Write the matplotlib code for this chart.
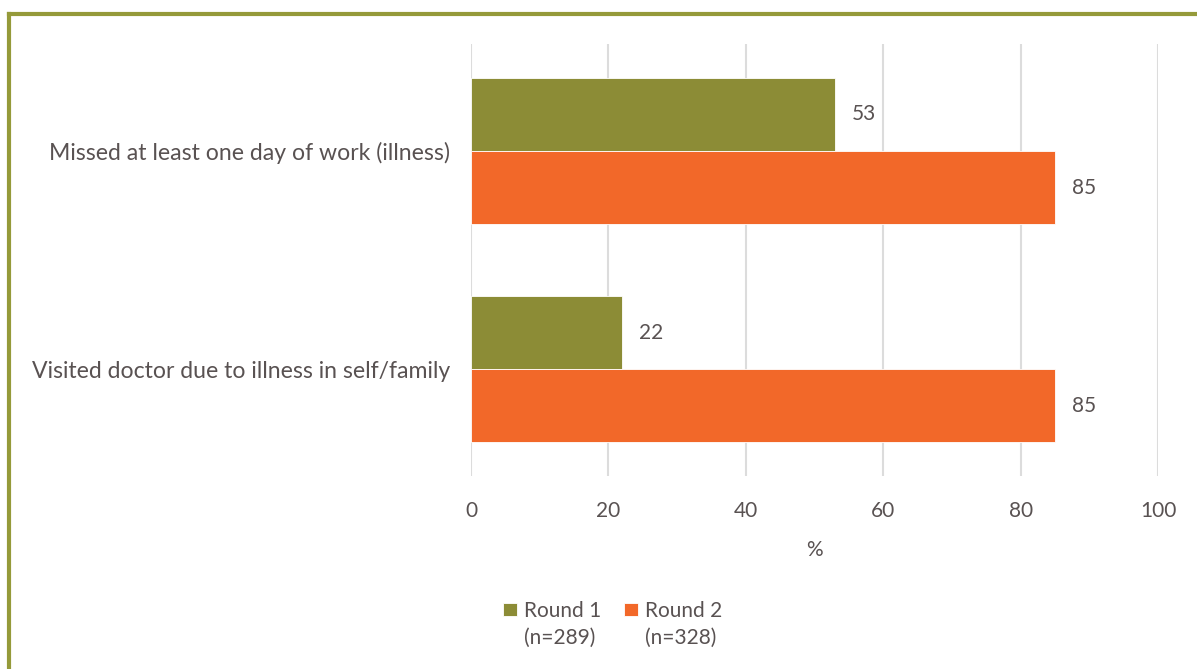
import numpy as np
import matplotlib.pyplot as plt

plt.rcParams['font.family'] = ['Lato', 'DejaVu Sans']

categories = ["Visited doctor due to illness in self/family",
              "Missed at least one day of work (illness)"]
round1 = [22, 53]
round2 = [85, 85]
series_names = ["Round 1", "Round 2"]
series_n = ["(n=289)", "(n=328)"]
xticks = [0, 20, 40, 60, 80, 100]

olive = "#8c8c36"
orange = "#f26829"
text_col = "#595252"
grid_col = "#dcdcdc"

fig = plt.figure(figsize=(11.97, 6.69), dpi=100)
ax = fig.add_axes([0.3935, 0.2885, 0.5739, 0.6455])

y = np.arange(len(categories))
h = 0.335
b1 = ax.barh(y + h / 2, round1, height=h, color=olive, edgecolor="white", linewidth=0.6,
             label=series_names[0], zorder=3)
b2 = ax.barh(y - h / 2, round2, height=h, color=orange, edgecolor="white", linewidth=0.6,
             label=series_names[1], zorder=3)
for bars in (b1, b2):
    ax.bar_label(bars, labels=[str(v) for v in bars.datavalues], padding=12,
                 fontsize=15, color=text_col)

ax.set_xlim(0, 100)
ax.set_ylim(-0.49, 1.49)
ax.set_xticks(xticks)
ax.set_yticks(y)
ax.set_yticklabels(categories, fontsize=16.6)
ax.tick_params(axis="both", length=0, labelcolor=text_col)
ax.tick_params(axis="x", pad=18, labelsize=15)
ax.tick_params(axis="y", pad=15)
ax.xaxis.grid(True, color=grid_col, linewidth=1.5, zorder=0)
ax.set_axisbelow(True)
for s in ax.spines.values():
    s.set_visible(False)
ax.set_xlabel("%", fontsize=15, color=text_col, labelpad=14)

leg = fig.legend(handles=[b1, b2], labels=series_names, loc="upper center",
                 bbox_to_anchor=(0.512, 0.13), ncol=2, frameon=False, fontsize=15,
                 labelcolor=text_col, handlelength=0.65, handleheight=0.65,
                 handletextpad=0.35, columnspacing=1.1)
fig.canvas.draw()
renderer = fig.canvas.get_renderer()
inv = fig.transFigure.inverted()
for txt, n in zip(leg.get_texts(), series_n):
    bb = txt.get_window_extent(renderer)
    x0, y0 = inv.transform((bb.x0, bb.y0 - 7))
    fig.text(x0, y0, n, fontsize=15, color=text_col, va="top", ha="left")

# olive frame (top and left edges)
fig.add_artist(plt.Line2D([0.0075, 1.0], [0.979, 0.979], transform=fig.transFigure,
                          color="#959a3a", linewidth=3))
fig.add_artist(plt.Line2D([0.0075, 0.0075], [0.0, 0.979], transform=fig.transFigure,
                          color="#959a3a", linewidth=3))

fig.savefig("out.png", dpi=100)
